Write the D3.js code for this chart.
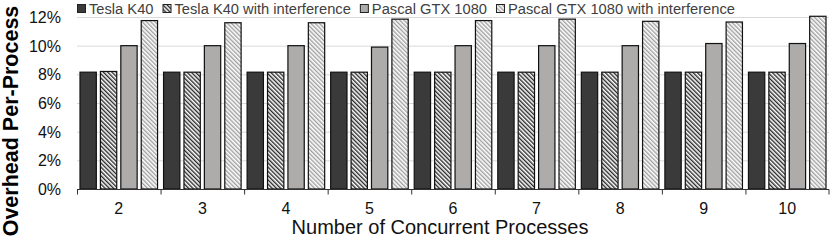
<!DOCTYPE html>
<html>
<head>
<meta charset="utf-8">
<script src="https://cdn.jsdelivr.net/npm/d3@7"></script>
<style>
  body { margin: 0; background: #fff; }
  text { font-family: "Liberation Sans", Arial, sans-serif; }
</style>
</head>
<body>
<div id="chart"></div>
<script>
// values (percent)
var categories = ["2", "3", "4", "5", "6", "7", "8", "9", "10"];
var seriesNames = ["Tesla K40", "Tesla K40 with interference", "Pascal GTX 1080", "Pascal GTX 1080 with interference"];
var teslaK40 = [8.15, 8.15, 8.15, 8.15, 8.15, 8.15, 8.15, 8.15, 8.15];
var teslaK40Interf = [8.2, 8.15, 8.15, 8.15, 8.15, 8.15, 8.15, 8.15, 8.15];
var pascal = [10.0, 10.0, 10.0, 9.9, 10.0, 10.0, 10.0, 10.15, 10.15];
var pascalInterf = [11.75, 11.6, 11.6, 11.85, 11.75, 11.85, 11.7, 11.65, 12.05];
var yTicks = [0, 2, 4, 6, 8, 10, 12];

var allSeries = [teslaK40, teslaK40Interf, pascal, pascalInterf];
var fills = ["#3a3a3a", "url(#hatchDark)", "#aeabab", "url(#hatchLight)"];

var width = 830, height = 242;
var margin = {top: 17, right: 1, bottom: 53, left: 77};

var svg = d3.select("#chart")
  .append("svg")
    .attr("width", width)
    .attr("height", height);

// hatch patterns
var defs = svg.append("defs");
function hatch(id, color) {
  var p = defs.append("pattern")
    .attr("id", id)
    .attr("patternUnits", "userSpaceOnUse")
    .attr("width", 3)
    .attr("height", 3)
    .attr("patternTransform", "rotate(-45)");
  p.append("rect").attr("width", 3).attr("height", 3).attr("fill", "#fff");
  p.append("rect").attr("width", 1.4).attr("height", 3).attr("fill", color);
}
hatch("hatchDark", "#2a2a2a");
hatch("hatchLight", "#a0a0a0");

var x = d3.scaleBand()
  .domain(categories)
  .range([margin.left, width - margin.right]);

var xSub = d3.scaleBand()
  .domain(d3.range(seriesNames.length))
  .range([3, x.bandwidth() - 3])
  .paddingInner(0.2);

var y = d3.scaleLinear()
  .domain([0, 12])
  .range([height - margin.bottom, margin.top]);

// gridlines
svg.append("g")
  .selectAll("line")
  .data(yTicks.slice(1))
  .enter()
  .append("line")
    .attr("x1", margin.left)
    .attr("x2", width - margin.right)
    .attr("y1", function(d) { return y(d) + 0.5; })
    .attr("y2", function(d) { return y(d) + 0.5; })
    .attr("stroke", "#d9d9d9")
    .attr("stroke-width", 1);

// y labels
svg.append("g")
  .selectAll("text")
  .data(yTicks)
  .enter()
  .append("text")
    .attr("x", 61)
    .attr("y", function(d) { return y(d) + 6; })
    .attr("text-anchor", "end")
    .attr("font-size", 16)
    .attr("fill", "#111")
    .text(function(d) { return d + "%"; });

// bars
var groups = svg.append("g")
  .selectAll("g")
  .data(categories)
  .enter()
  .append("g")
    .attr("transform", function(d) { return "translate(" + x(d) + ",0)"; });

groups.selectAll("rect")
  .data(function(d, i) { return allSeries.map(function(s, k) { return {k: k, v: s[i]}; }); })
  .enter()
  .append("rect")
    .attr("x", function(d) { return xSub(d.k); })
    .attr("y", function(d) { return y(d.v); })
    .attr("width", xSub.bandwidth())
    .attr("height", function(d) { return y(0) - y(d.v); })
    .attr("fill", function(d) { return fills[d.k]; })
    .attr("stroke", "#111")
    .attr("stroke-width", 1.2);

// x axis line + boundary ticks
var axisY = y(0) + 0.5;
svg.append("line")
  .attr("x1", margin.left).attr("x2", width - margin.right)
  .attr("y1", axisY).attr("y2", axisY)
  .attr("stroke", "#333");
svg.append("g")
  .selectAll("line")
  .data(categories.map(function(c) { return x(c); }).concat([x.range()[1] - 0.5]))
  .enter()
  .append("line")
    .attr("x1", function(d) { return d + 0.5; })
    .attr("x2", function(d) { return d + 0.5; })
    .attr("y1", axisY)
    .attr("y2", axisY + 5)
    .attr("stroke", "#333");

// x labels
svg.append("g")
  .selectAll("text")
  .data(categories)
  .enter()
  .append("text")
    .attr("x", function(d) { return x(d) + x.bandwidth() / 2; })
    .attr("y", 214)
    .attr("text-anchor", "middle")
    .attr("font-size", 16)
    .attr("fill", "#111")
    .text(function(d) { return d; });

// axis titles
svg.append("text")
  .attr("x", 440)
  .attr("y", 234)
  .attr("text-anchor", "middle")
  .attr("font-size", 20)
  .attr("fill", "#111")
  .text("Number of Concurrent Processes");

svg.append("text")
  .attr("transform", "translate(18,121) rotate(-90)")
  .attr("text-anchor", "middle")
  .attr("font-size", 21.5)
  .attr("font-weight", "bold")
  .attr("fill", "#000")
  .text("Overhead Per-Process");

// legend
var legend = svg.append("g");
var lx = 77;
seriesNames.forEach(function(name, k) {
  legend.append("rect")
    .attr("x", lx + 0.5).attr("y", 4.5)
    .attr("width", 8).attr("height", 8)
    .attr("fill", fills[k])
    .attr("stroke", "#222");
  var t = legend.append("text")
    .attr("x", lx + 12)
    .attr("y", 14)
    .attr("font-size", 14.7)
    .attr("fill", "#404040")
    .text(name);
  lx += 12 + t.node().getComputedTextLength() + 9;
});
</script>
</body>
</html>
